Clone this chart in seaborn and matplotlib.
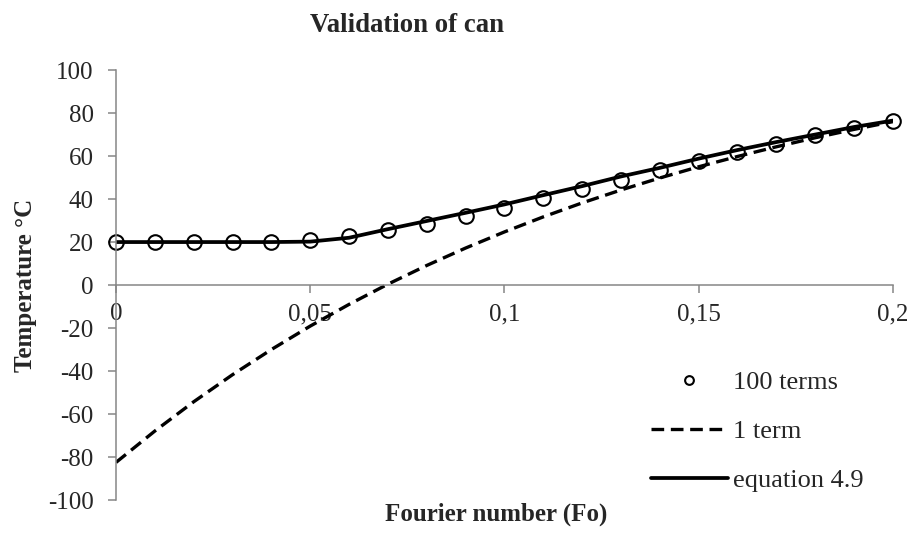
import numpy as np
import pandas as pd
import matplotlib
matplotlib.use('Agg')
import matplotlib.pyplot as plt
import seaborn as sns

# Fourier numbers sampled every 0.01
fo = [0.00, 0.01, 0.02, 0.03, 0.04, 0.05, 0.06, 0.07, 0.08, 0.09, 0.10,
      0.11, 0.12, 0.13, 0.14, 0.15, 0.16, 0.17, 0.18, 0.19, 0.20]

# values (temperature in °C)
terms_100 = [20, 20, 20, 20, 20, 20.8, 22.8, 25.4, 28.6, 32.2, 35.8,
             40.3, 44.6, 49.0, 53.4, 57.6, 61.8, 65.8, 69.6, 73.0, 76.5]
term_1 = [-82.5, -67.9, -54.3, -41.7, -30.0, -19.1, -9.0, 0.4, 9.1, 17.2, 24.7,
          31.7, 38.2, 44.2, 49.8, 55.0, 59.8, 64.3, 68.5, 72.4, 76.0]
eq_49 = [20, 20, 20, 20, 20, 20.2, 22.0, 26.0, 29.8, 33.6, 37.5,
         41.8, 46.0, 50.5, 54.5, 58.8, 62.8, 66.5, 70.0, 73.5, 76.5]

df = pd.DataFrame({'Fo': fo, '100 terms': terms_100,
                   '1 term': term_1, 'equation 4.9': eq_49})

sns.set_style('white')
plt.rcParams['font.family'] = ['Liberation Serif', 'DejaVu Serif']
plt.rcParams['axes.unicode_minus'] = False

fig = plt.figure(figsize=(9.1, 5.35), dpi=100)
ax = fig.add_axes([0.1275, 0.0654, 0.8535, 0.8036])

# plot series (Excel-like order: markers, dashed, solid on top)
sns.lineplot(data=df, x='Fo', y='100 terms', ax=ax, marker='o', linestyle='none',
             markersize=10.5, markerfacecolor='none', markeredgecolor='black',
             markeredgewidth=1.5, label='100 terms', clip_on=False)
sns.lineplot(data=df, x='Fo', y='1 term', ax=ax, color='black', linewidth=2.4,
             dashes=(3.8, 2), label='1 term')
sns.lineplot(data=df, x='Fo', y='equation 4.9', ax=ax, color='black',
             linewidth=2.7, label='equation 4.9')

ax.set_xlim(0, 0.2)
ax.set_ylim(-100, 100)
ax.set_xticks([0, 0.05, 0.1, 0.15, 0.2])
ax.set_xticklabels(['0', '0,05', '0,1', '0,15', '0,2'])
ax.set_yticks(np.arange(-100, 101, 20))

# axes styling
grey = '#868686'
for s in ['top', 'right']:
    ax.spines[s].set_visible(False)
ax.spines['bottom'].set_position(('data', 0))
ax.spines['bottom'].set_color(grey)
ax.spines['left'].set_color(grey)
ax.spines['bottom'].set_linewidth(1.1)
ax.spines['left'].set_linewidth(1.1)
ax.tick_params(axis='x', direction='out', length=6, width=1.1, color=grey,
               labelsize=18, pad=7, bottom=True)
ax.tick_params(axis='y', direction='out', length=6, width=1.1, color=grey,
               labelsize=18, pad=10, left=True)

ax.set_xlabel('Fourier number (Fo)', fontsize=18, fontweight='bold')
ax.xaxis.set_label_coords(0.49, -0.005)
ax.set_ylabel('Temperature °C', fontsize=18, fontweight='bold')
ax.yaxis.set_label_coords(-0.102, 0.5)

ax.set_title('Validation of can', fontsize=19.3, fontweight='bold',
             x=0.3745, y=1.088, pad=0)

ax.legend(loc='center left', bbox_to_anchor=(0.701, 0.194),
          bbox_transform=fig.transFigure, frameon=False, fontsize=19,
          labelspacing=0.97, handlelength=2.9, handletextpad=0.2,
          borderpad=0, markerscale=0.6)

fig.savefig('out.png', dpi=100)
